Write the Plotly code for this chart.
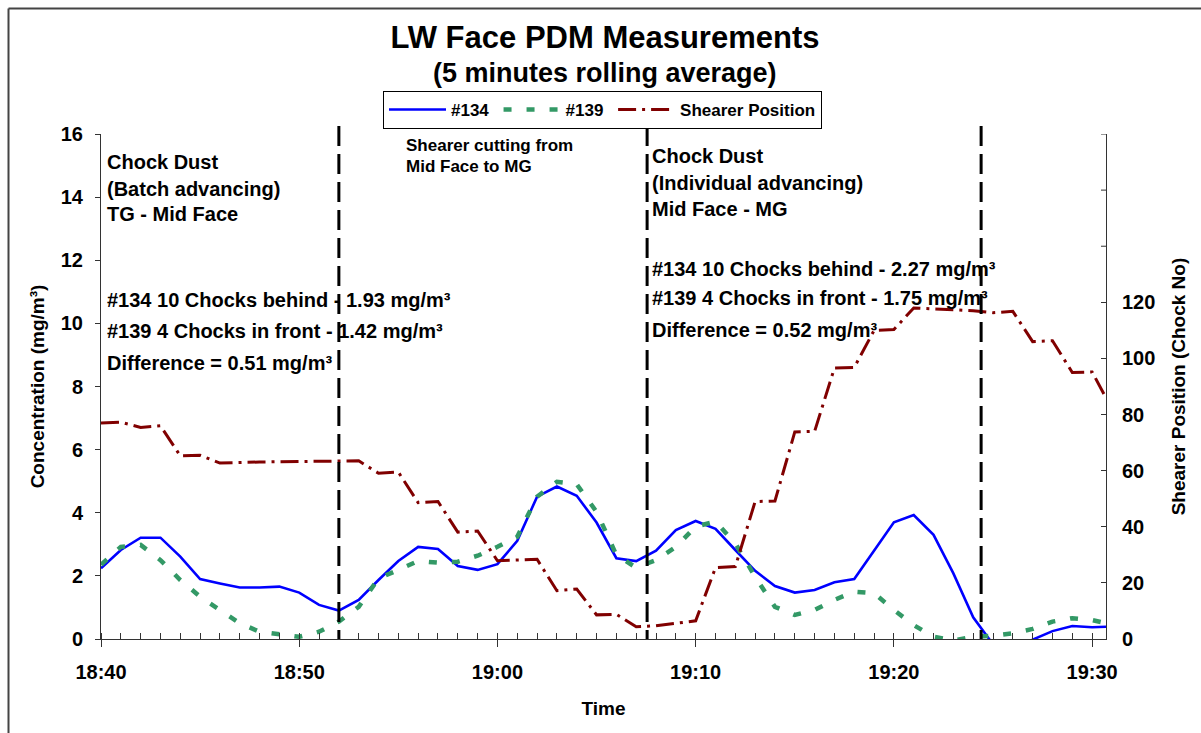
import pandas as pd
import plotly.graph_objects as go

# ---------------- data ----------------
times = ["18:40", "18:41", "18:42", "18:43", "18:44", "18:45", "18:46", "18:47", "18:48", "18:49",
         "18:50", "18:51", "18:52", "18:53", "18:54", "18:55", "18:56", "18:57", "18:58", "18:59",
         "19:00", "19:01", "19:02", "19:03", "19:04", "19:05", "19:06", "19:07", "19:08", "19:09",
         "19:10", "19:11", "19:12", "19:13", "19:14", "19:15", "19:16", "19:17", "19:18", "19:19",
         "19:20", "19:21", "19:22", "19:23", "19:24", "19:25", "19:26", "19:27", "19:28", "19:29",
         "19:30", "19:30:42"]

conc_134 = [2.24, 2.82, 3.21, 3.21, 2.61, 1.90, 1.76, 1.63, 1.63, 1.66,
            1.47, 1.08, 0.90, 1.24, 1.87, 2.47, 2.92, 2.85, 2.31, 2.19,
            2.37, 3.11, 4.51, 4.83, 4.54, 3.69, 2.56, 2.47, 2.80, 3.45,
            3.74, 3.49, 2.82, 2.16, 1.68, 1.47, 1.55, 1.80, 1.90, 2.82,
            3.70, 3.93, 3.30, 2.08, 0.69, -0.17, -0.45, -0.02, 0.25, 0.41,
            0.37, 0.39]

conc_139 = [2.35, 2.92, 2.98, 2.50, 1.87, 1.34, 0.92, 0.50, 0.23, 0.15,
            0.07, 0.23, 0.55, 1.02, 1.92, 2.19, 2.47, 2.42, 2.45, 2.64,
            2.92, 3.24, 4.51, 4.98, 4.90, 4.03, 2.66, 2.26, 2.50, 2.92,
            3.56, 3.72, 3.03, 1.97, 1.02, 0.76, 0.92, 1.24, 1.50, 1.45,
            0.92, 0.44, 0.07, -0.05, 0.07, 0.10, 0.18, 0.32, 0.55, 0.66,
            0.60, 0.50]

shearer_pos = [77.0, 77.3, 75.4, 76.0, 65.3, 65.5, 62.7, 63.0, 63.1, 63.2,
               63.3, 63.4, 63.3, 63.5, 59.1, 59.5, 48.6, 49.0, 38.1, 38.5,
               27.9, 28.2, 28.4, 17.2, 17.8, 8.6, 8.8, 4.4, 4.7, 5.6,
               6.5, 25.4, 25.8, 49.0, 49.2, 73.8, 74.0, 96.6, 96.8, 110.0,
               110.3, 118.0, 117.7, 117.3, 117.0, 116.3, 116.8, 106.0, 106.3, 95.0,
               95.2, 85.9]

event_times = ["18:52:00", "19:07:33", "19:24:24"]

right_tick_vals = [0, 20, 40, 60, 80, 100, 120]
right_extra_ticks = [140, 160, 180]   # unlabeled ticks above 120

DAY = "2000-01-01 "
t = pd.to_datetime([DAY + s for s in times], format="mixed")
ev = pd.to_datetime([DAY + s for s in event_times], format="mixed")

# ---------------- layout helpers (pixel -> paper) ----------------
FONT = "Liberation Sans, Arial, Helvetica, sans-serif"
W, H = 1201, 733
L, R, T, B = 101, 1106, 134, 639


def px(x):
    return (x - L) / (R - L)


def py(y):
    return (B - y) / (B - T)


AX = "#333333"
NB = "\u00a0"

fig = go.Figure()
fig.add_trace(go.Scatter(x=t, y=conc_134, name="#134" + NB, mode="lines",
                         line=dict(color="#0000FF", width=2.6)))
fig.add_trace(go.Scatter(x=t, y=conc_139, name="#139" + NB, mode="lines",
                         line=dict(color="#339966", width=4.5, dash="8px,15px")))
fig.add_trace(go.Scatter(x=t, y=shearer_pos, name="Shearer Position", mode="lines",
                         yaxis="y2",
                         line=dict(color="#800000", width=3, dash="18px,6px,3px,6px")))

shapes = []
for e in ev:
    shapes.append(dict(type="line", xref="x", yref="paper", x0=e, x1=e,
                       y0=py(126), y1=0, line=dict(color="black", width=3, dash="20px,8px")))
# unlabeled right-axis ticks above 120
for v in right_extra_ticks:
    shapes.append(dict(type="line", xref="paper", yref="y2", x0=px(R - 5), x1=1, y0=v, y1=v,
                       line=dict(color=AX, width=1)))
# outer chart frame (left and top edges visible)
shapes.append(dict(type="line", xref="paper", yref="paper", x0=px(8.5), x1=px(8.5),
                   y0=py(740), y1=py(8.5), line=dict(color="#444444", width=2)))
shapes.append(dict(type="line", xref="paper", yref="paper", x0=px(8.5), x1=px(1210),
                   y0=py(8.5), y1=py(8.5), line=dict(color="#444444", width=2)))

annotations = []


def txt(text, x, y, size=20):
    annotations.append(dict(text=text, xref="paper", yref="paper", x=px(x), y=py(y),
                            xanchor="left", yanchor="middle", showarrow=False,
                            font=dict(family=FONT, size=size, color="black", weight="bold")))


# subtitle
annotations.append(dict(text="(5 minutes rolling average)", xref="paper", yref="paper",
                        x=px(605), y=py(73), xanchor="center", yanchor="middle", showarrow=False,
                        font=dict(family=FONT, size=27, color="black", weight="bold")))

txt("Chock Dust", 105, 162)
txt("(Batch advancing)", 105, 189)
txt("TG - Mid Face", 105, 214)
txt("#134 10 Chocks behind - 1.93 mg/m³", 105, 300)
txt("#139 4 Chocks in front - 1.42 mg/m³", 105, 331)
txt("Difference = 0.51 mg/m³", 105, 363)

txt("Shearer cutting from", 404, 145, 17)
txt("Mid Face to MG", 404, 167, 17)

txt("Chock Dust", 650, 156)
txt("(Individual advancing)", 650, 183)
txt("Mid Face - MG", 650, 209)
txt("#134 10 Chocks behind - 2.27 mg/m³", 650, 269)
txt("#139 4 Chocks in front - 1.75 mg/m³", 650, 298)
txt("Difference = 0.52 mg/m³", 650, 330)

fig.update_layout(
    width=W, height=H,
    margin=dict(l=L, r=W - R, t=T, b=H - B, pad=0),
    paper_bgcolor="white", plot_bgcolor="white",
    font=dict(family=FONT, size=20, color="black", weight="bold"),
    title=dict(text="LW Face PDM Measurements", x=605 / W, xref="container", xanchor="center",
               y=1 - 37 / H, yref="container", yanchor="middle",
               font=dict(family=FONT, size=31, color="black", weight="bold")),
    showlegend=True,
    legend=dict(orientation="h", x=px(383), y=py(91), xanchor="left", yanchor="top",
                bgcolor="white", bordercolor="black", borderwidth=1,
                font=dict(family=FONT, size=17, color="black", weight="bold"),
                itemwidth=57, traceorder="normal"),
    xaxis=dict(type="date", range=[t[0], t[-1]], tickformat="%H:%M",
               tick0=DAY + "18:40", dtick=600000,
               ticks="outside", ticklen=7, tickwidth=1, tickcolor=AX,
               showline=True, linecolor=AX, linewidth=1, mirror=False,
               showgrid=False, zeroline=False, ticklabelstandoff=8,
               tickfont=dict(size=20),
               minor=dict(tick0=DAY + "18:40", dtick=60000, ticks="inside", ticklen=6,
                          tickcolor=AX, tickwidth=1, showgrid=False),
               title=dict(text="Time", font=dict(size=19), standoff=19)),
    yaxis=dict(range=[0, 16], dtick=2, ticks="outside", ticklen=5, tickwidth=1, tickcolor=AX,
               showline=True, linecolor=AX, linewidth=1, showgrid=False, zeroline=False,
               ticklabelstandoff=8, tickfont=dict(size=20),
               title=dict(text="Concentration (mg/m³)", font=dict(size=19), standoff=11)),
    yaxis2=dict(overlaying="y", side="right", range=[0, 180],
                tickmode="array", tickvals=right_tick_vals,
                ticks="inside", ticklen=5, tickwidth=1, tickcolor=AX,
                showline=True, linecolor=AX, linewidth=1, showgrid=False, zeroline=False,
                ticklabelstandoff=11, tickfont=dict(size=20),
                title=dict(text="Shearer Position (Chock No)", font=dict(size=19), standoff=17)),
    shapes=shapes,
    annotations=annotations,
)

fig.write_html("out.html", config={"displayModeBar": False},
               post_script="document.body.style.margin='0';")
